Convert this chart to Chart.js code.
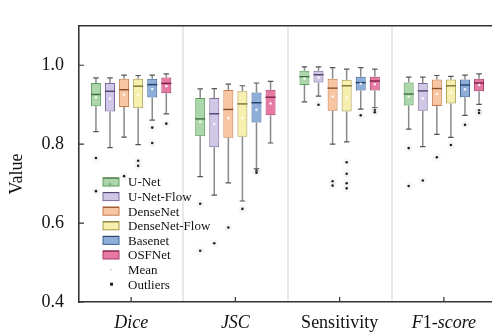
<!DOCTYPE html>
<html>
<head>
<meta charset="utf-8">
<script src="https://cdn.jsdelivr.net/npm/chart.js@4"></script>
<style>
  html,body{margin:0;padding:0;background:#fff;overflow:hidden;}
  #wrap{width:500px;height:336px;position:relative;}
</style>
</head>
<body>
<div id="wrap"><canvas id="c"></canvas></div>
<script>
const metrics = ['Dice', 'JSC', 'Sensitivity', 'F1-score'];
// label pieces: [text, italic]
const metricLabelParts = [
  [['Dice', true]],
  [['JSC', true]],
  [['Sensitivity', false]],
  [['F', true], ['1', false], ['-score', true]]
];
const models = ['U-Net', 'U-Net-Flow', 'DenseNet', 'DenseNet-Flow', 'Basenet', 'OSFNet'];
const yTicks = [0.4, 0.6, 0.8, 1.0];

// per metric: [lower whisker, q1, median, q3, upper whisker]
const unetBox      = [[0.832,0.896,0.926,0.955,0.968],[0.718,0.820,0.864,0.917,0.940],[0.907,0.950,0.971,0.986,0.996],[0.838,0.898,0.927,0.956,0.970]];
const unetFlowBox  = [[0.791,0.883,0.934,0.955,0.968],[0.671,0.792,0.877,0.917,0.941],[0.922,0.956,0.976,0.986,0.996],[0.794,0.885,0.935,0.955,0.970]];
const denseBox     = [[0.818,0.894,0.938,0.966,0.975],[0.702,0.816,0.888,0.937,0.952],[0.800,0.885,0.942,0.966,0.994],[0.825,0.897,0.941,0.964,0.974]];
const denseFlowBox = [[0.799,0.891,0.947,0.966,0.974],[0.656,0.819,0.902,0.934,0.948],[0.806,0.883,0.948,0.963,0.990],[0.817,0.903,0.948,0.964,0.972]];
const basenetBox   = [[0.861,0.918,0.951,0.966,0.975],[0.738,0.855,0.905,0.931,0.955],[0.889,0.936,0.956,0.971,0.994],[0.873,0.919,0.950,0.964,0.975]];
const osfBox       = [[0.877,0.929,0.954,0.969,0.978],[0.803,0.873,0.919,0.938,0.959],[0.893,0.936,0.960,0.971,0.990],[0.901,0.934,0.955,0.966,0.978]];

const unetMean      = [0.918, 0.857, 0.966, 0.920];
const unetFlowMean  = [0.915, 0.851, 0.969, 0.916];
const denseMean     = [0.925, 0.866, 0.920, 0.927];
const denseFlowMean = [0.925, 0.866, 0.918, 0.930];
const basenetMean   = [0.940, 0.887, 0.953, 0.939];
const osfMean       = [0.947, 0.903, 0.952, 0.950];

const unetOut      = [[0.765,0.681],[0.649,0.530],[],[0.790,0.694]];
const unetFlowOut  = [[0.698],[0.549],[0.900],[0.708]];
const denseOut     = [[0.719],[0.589],[0.706,0.695],[0.767]];
const denseFlowOut = [[0.758,0.745],[0.636],[0.754,0.725,0.701,0.688],[0.798]];
const basenetOut   = [[0.842,0.803],[0.734,0.728],[0.873],[0.849]];
const osfOut       = [[0.852],[],[0.887,0.881],[0.886,0.879]];

const boxes = [unetBox, unetFlowBox, denseBox, denseFlowBox, basenetBox, osfBox];
const means = [unetMean, unetFlowMean, denseMean, denseFlowMean, basenetMean, osfMean];
const outliers = [unetOut, unetFlowOut, denseOut, denseFlowOut, basenetOut, osfOut];

const fills = ['rgba(150,205,150,0.8)','rgba(196,184,224,0.8)','rgba(248,184,140,0.8)','rgba(244,236,160,0.85)','rgba(120,160,210,0.85)','rgba(226,96,146,0.85)'];
const edges = ['#5e9a5e','#7a6c9e','#c47a48','#a89c4a','#3e6496','#a83a6a'];
const medians = ['#3f6f3f','#4e4270','#8a4e26','#7a7030','#243e64','#7a1e46'];

const SERIF = '"Liberation Serif", "DejaVu Serif", serif';

const boxPlugin = {
  id: 'boxParts',
  beforeDatasetsDraw(chart) {
    const ctx = chart.ctx, y = chart.scales.y;
    ctx.save();
    boxes.forEach((b, i) => {
      chart.getDatasetMeta(i).data.forEach((el, j) => {
        const s = b[j];
        const x = el.x, cw = el.width * 0.55;
        ctx.strokeStyle = '#8a8a8a';
        ctx.lineWidth = 1.5;
        ctx.beginPath();
        ctx.moveTo(x, y.getPixelForValue(s[0])); ctx.lineTo(x, y.getPixelForValue(s[1]));
        ctx.moveTo(x, y.getPixelForValue(s[3])); ctx.lineTo(x, y.getPixelForValue(s[4]));
        ctx.stroke();
        ctx.strokeStyle = '#555';
        ctx.lineWidth = 1.2;
        ctx.beginPath();
        ctx.moveTo(x - cw/2, y.getPixelForValue(s[0])); ctx.lineTo(x + cw/2, y.getPixelForValue(s[0]));
        ctx.moveTo(x - cw/2, y.getPixelForValue(s[4])); ctx.lineTo(x + cw/2, y.getPixelForValue(s[4]));
        ctx.stroke();
      });
    });
    ctx.restore();
  },
  afterDatasetsDraw(chart) {
    const ctx = chart.ctx, y = chart.scales.y;
    ctx.save();
    boxes.forEach((b, i) => {
      chart.getDatasetMeta(i).data.forEach((el, j) => {
        const x = el.x, w = el.width;
        const ym = y.getPixelForValue(b[j][2]);
        ctx.strokeStyle = medians[i];
        ctx.lineWidth = 1.4;
        ctx.beginPath(); ctx.moveTo(x - w/2, ym); ctx.lineTo(x + w/2, ym); ctx.stroke();
        // mean
        ctx.fillStyle = 'rgba(255,255,255,0.85)';
        ctx.beginPath(); ctx.arc(x, y.getPixelForValue(means[i][j]), 1.3, 0, Math.PI*2); ctx.fill();
        // outliers
        outliers[i][j].forEach(v => {
          const yo = y.getPixelForValue(v);
          ctx.fillStyle = 'rgba(210,210,210,0.18)';
          ctx.beginPath(); ctx.arc(x, yo, 4, 0, Math.PI*2); ctx.fill();
          ctx.fillStyle = '#222';
          ctx.beginPath(); ctx.arc(x, yo, 1.3, 0, Math.PI*2); ctx.fill();
        });
      });
    });
    ctx.restore();
  },
  afterDraw(chart) {
    const ctx = chart.ctx, a = chart.chartArea, xs = chart.scales.x, ys = chart.scales.y;
    ctx.save();
    // top frame
    ctx.strokeStyle = '#333';
    ctx.lineWidth = 1.5;
    ctx.beginPath(); ctx.moveTo(a.left, a.top); ctx.lineTo(a.right, a.top); ctx.stroke();
    // inward ticks
    ctx.lineWidth = 1.2;
    ctx.beginPath();
    yTicks.forEach(v => { const py = ys.getPixelForValue(v); ctx.moveTo(a.left, py); ctx.lineTo(a.left + 5, py); });
    metrics.forEach((m, j) => { const px = xs.getPixelForValue(j); ctx.moveTo(px, a.bottom); ctx.lineTo(px, a.bottom - 5); });
    ctx.stroke();
    // x labels
    ctx.fillStyle = '#111';
    ctx.textBaseline = 'middle';
    ctx.textAlign = 'left';
    metricLabelParts.forEach((parts, j) => {
      let total = 0;
      parts.forEach(p => { ctx.font = (p[1] ? 'italic ' : '') + '18px ' + SERIF; total += ctx.measureText(p[0]).width; });
      let px = xs.getPixelForValue(j) - total/2;
      parts.forEach(p => {
        ctx.font = (p[1] ? 'italic ' : '') + '18px ' + SERIF;
        ctx.fillText(p[0], px, a.bottom + 21);
        px += ctx.measureText(p[0]).width;
      });
    });
    // y title
    ctx.save();
    ctx.translate(17, 174);
    ctx.rotate(-Math.PI/2);
    ctx.textAlign = 'center';
    ctx.font = '18px ' + SERIF;
    ctx.fillText('Value', 0, 0);
    ctx.restore();
    // legend
    const lx = a.left + 24, ly0 = 182, step = 14.6;
    ctx.font = '13px ' + SERIF;
    ctx.textAlign = 'left';
    models.forEach((m, i) => {
      const yy = ly0 + i*step;
      ctx.fillStyle = fills[i];
      ctx.fillRect(lx, yy - 4, 16, 8);
      ctx.strokeStyle = edges[i];
      ctx.lineWidth = 1;
      ctx.strokeRect(lx, yy - 4, 16, 8);
      ctx.strokeStyle = medians[i];
      ctx.beginPath(); ctx.moveTo(lx, yy - 4); ctx.lineTo(lx + 16, yy - 4); ctx.stroke();
      ctx.fillStyle = '#111';
      ctx.fillText(m, lx + 25, yy + 1);
    });
    let yy = ly0 + 6*step;
    ctx.fillStyle = '#ddd';
    ctx.beginPath(); ctx.arc(lx + 8, yy, 1.2, 0, Math.PI*2); ctx.fill();
    ctx.fillStyle = '#111';
    ctx.fillText('Mean', lx + 25, yy + 1);
    yy += step;
    ctx.fillStyle = '#222';
    ctx.fillRect(lx + 7, yy - 1.5, 3, 3);
    ctx.fillStyle = '#111';
    ctx.fillText('Outliers', lx + 25, yy + 1);
    ctx.restore();
  }
};

new Chart(document.getElementById('c'), {
  type: 'bar',
  data: {
    labels: metrics,
    datasets: models.map((m, i) => ({
      label: m,
      data: boxes[i].map(s => [s[1], s[3]]),
      backgroundColor: fills[i],
      borderColor: edges[i],
      borderWidth: 1,
      borderSkipped: false,
      categoryPercentage: 0.81,
      barPercentage: 0.71
    }))
  },
  options: {
    responsive: true,
    maintainAspectRatio: false,
    animation: false,
    layout: { padding: { top: 9, right: 4, left: 0, bottom: 0 } },
    plugins: { legend: { display: false }, tooltip: { enabled: false } },
    scales: {
      x: {
        offset: true,
        ticks: { display: false },
        grid: { offset: true, color: '#e8e8e8', lineWidth: 2, drawTicks: false },
        border: { display: true, color: '#333', width: 1.5 },
        afterFit: s => { s.height = 34; }
      },
      y: {
        min: 0.4, max: 1.1,
        afterBuildTicks: s => { s.ticks = yTicks.map(v => ({ value: v })); },
        ticks: { padding: 15, color: '#111', font: { family: SERIF, size: 18 }, callback: v => v.toFixed(1) },
        grid: { drawOnChartArea: false, drawTicks: false },
        border: { display: true, color: '#333', width: 1.5 },
        afterFit: s => { s.width = 79; }
      }
    }
  },
  plugins: [boxPlugin]
});
</script>
</body>
</html>
